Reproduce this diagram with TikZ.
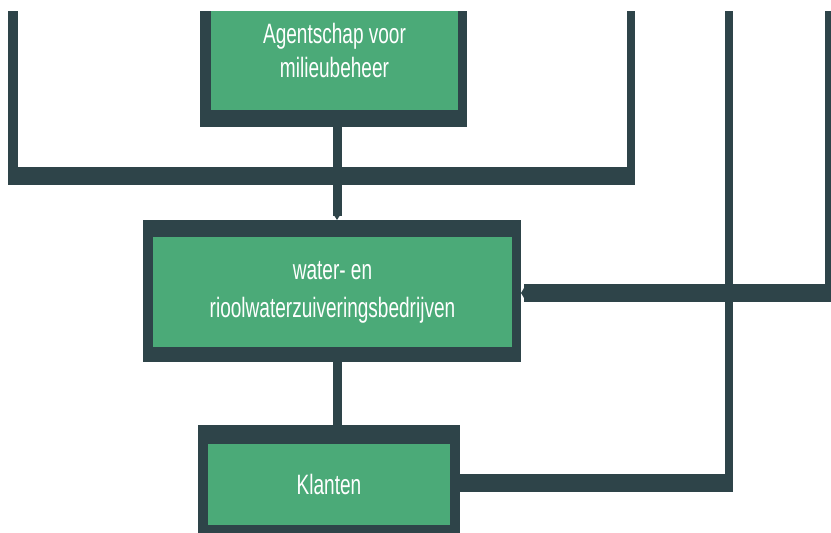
\documentclass[tikz,border=0pt]{standalone}
\usepackage{fontspec}
\newfontfamily\boxfont{Liberation Sans}[FakeStretch=0.68]
\usetikzlibrary{arrows.meta}
\definecolor{frame}{RGB}{46,68,73}
\definecolor{leaf}{RGB}{75,170,120}
\begin{document}
\begin{tikzpicture}[x=1pt,y=-1pt,
  outerbox/.style={fill=frame, draw=none, inner sep=0pt, outer sep=0pt},
  innerbox/.style={fill=leaf, draw=none, inner sep=0pt, outer sep=0pt, text=white, align=center},
  conn/.style={draw=frame, line cap=butt},
  tipv/.style={-{Triangle[length=4pt,width=5pt,line width=0pt]}},
  tiph/.style={-{Triangle[length=3pt,width=10pt,line width=0pt]}}]
\useasboundingbox (0,0) rectangle (831,533);
\clip (0,11) rectangle (831,533);

% boxes
\node[outerbox, minimum width=267pt, minimum height=154pt] (b1o) at (333.5,50) {};
\node[innerbox, minimum width=247pt, minimum height=120pt,
      font=\boxfont\fontsize{28}{34}\selectfont] (b1) at (334.5,50) {Agentschap voor\\milieubeheer};
\node[outerbox, minimum width=378pt, minimum height=142pt] (b2o) at (332,291) {};
\node[innerbox, minimum width=359pt, minimum height=110pt,
      font=\boxfont\fontsize{28}{38}\selectfont] (b2) at (332.5,292) {water- en\\rioolwaterzuiveringsbedrijven};
\node[outerbox, minimum width=262pt, minimum height=118pt] (b3o) at (329,484) {};
\node[innerbox, minimum width=242pt, minimum height=81pt,
      font=\boxfont\fontsize{28}{34}\selectfont] (b3) at (329,484.5) {Klanten};

% coordinates
\coordinate (vx) at (337,0);
\coordinate (fl) at (13,0);
\coordinate (flb) at (13,185);
\coordinate (fhl) at (8,176);
\coordinate (fhr) at (635,176);
\coordinate (fr) at (631,0);
\coordinate (frb) at (631,185);
\coordinate (s1) at (729,0);
\coordinate (s1b) at (729,492);
\coordinate (c1) at (733,483);
\coordinate (s2) at (829,0);
\coordinate (s2b) at (829,302);
\coordinate (c2) at (833,293);

% connectors
\draw[conn, line width=10pt] (fl) -- (flb);
\draw[conn, line width=18pt] (fhl) -- (fhr);
\draw[conn, line width=8pt] (fr) -- (frb);
\draw[conn, line width=9pt, tipv] (vx |- b1o.south) -- (vx |- b2o.north);
\draw[conn, line width=9pt] (vx |- b2o.south) -- (vx |- b3o.north);
\draw[conn, line width=8pt] (s1) -- (s1b);
\draw[conn, line width=18pt] (b3o.east |- c1) -- (c1);
\draw[conn, line width=8pt] (s2) -- (s2b);
\draw[conn, line width=18pt, tiph] (c2) -- (b2o.east |- c2);
\end{tikzpicture}
\end{document}
